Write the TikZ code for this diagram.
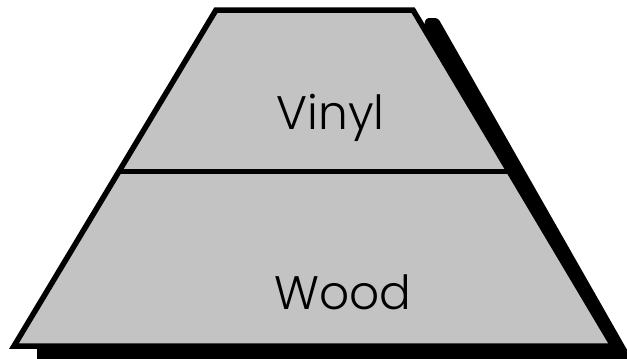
\documentclass[tikz,border=0pt]{standalone}
\usepackage{fontspec}
\setmainfont{Poppins Light}
\definecolor{panelgray}{RGB}{195,195,195}
\tikzset{
  panel/.style={fill=panelgray, draw=black, line width=5.5pt, line join=miter},
  divider/.style={draw=black, line width=4.5pt},
  shadowfill/.style={fill=black, rounded corners=3pt},
  label/.style={font=\fontsize{47}{47}\selectfont, text=black, inner sep=0pt, anchor=base}
}
\begin{document}
\begin{tikzpicture}[x=1pt, y=-1pt]
  \useasboundingbox (0,0) rectangle (627,359);
  \clip (0,0) rectangle (627,359);
  % coordinates of the trapezoid
  \coordinate (tl) at (216,10);
  \coordinate (tr) at (413,10);
  \coordinate (br) at (613,346);
  \coordinate (bl) at (14,346);
  \coordinate (ml) at (118.9,171.5);
  \coordinate (mr) at (509.1,171.5);
  % shadow
  \fill[shadowfill] (37,330) -- (37,362) -- (624,362) -- (630,355) -- (438,18) -- (426,18) -- (420,40) -- cycle;
  % main shape
  \draw[panel] (tl) -- (tr) -- (br) -- (bl) -- cycle;
  \draw[divider] (ml) -- (mr);
  % labels
  \node[label] (vinyl) at (330.5,129) {Vinyl};
  \node[label] (wood) at (343,309) {Wood};
\end{tikzpicture}
\end{document}
